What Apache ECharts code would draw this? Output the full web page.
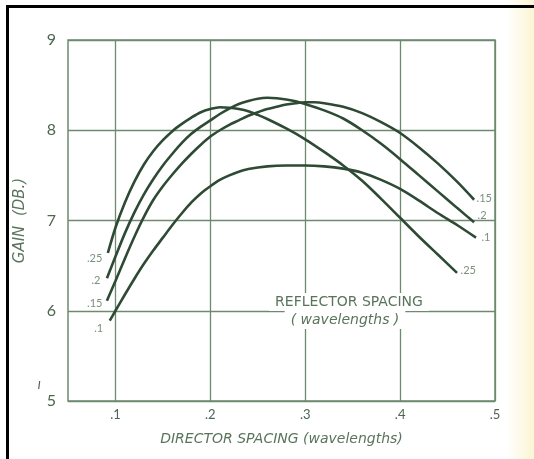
<!DOCTYPE html>
<html>
<head>
<meta charset="utf-8">
<script src="https://cdn.jsdelivr.net/npm/echarts@6/dist/echarts.min.js"></script>
<style>
html,body{margin:0;padding:0;background:#fff;}
#c{width:534px;height:459px;}
</style>
</head>
<body>
<div id="c"></div>
<script>
// Director spacing (wavelengths) vs gain (dB) for reflector spacings
const refl25 = [[0.092,6.64],[0.1,6.92],[0.11,7.20],[0.12,7.43],[0.13,7.62],[0.14,7.77],[0.15,7.89],[0.16,7.99],[0.17,8.07],[0.18,8.14],[0.19,8.20],[0.2,8.235],[0.21,8.255],[0.22,8.25],[0.23,8.235],[0.24,8.21],[0.25,8.17],[0.26,8.125],[0.28,8.02],[0.30,7.9],[0.32,7.76],[0.34,7.61],[0.36,7.44],[0.38,7.24],[0.40,7.03],[0.42,6.82],[0.44,6.62],[0.46,6.42]];
const refl20 = [[0.091,6.36],[0.1,6.60],[0.11,6.86],[0.12,7.09],[0.13,7.29],[0.14,7.46],[0.15,7.61],[0.16,7.74],[0.17,7.86],[0.18,7.96],[0.19,8.04],[0.2,8.11],[0.21,8.18],[0.22,8.24],[0.23,8.29],[0.24,8.325],[0.25,8.35],[0.26,8.36],[0.27,8.355],[0.28,8.34],[0.29,8.32],[0.30,8.29],[0.32,8.22],[0.34,8.13],[0.36,8.0],[0.38,7.85],[0.40,7.68],[0.42,7.50],[0.44,7.32],[0.46,7.14],[0.478,6.98]];
const refl15 = [[0.091,6.11],[0.1,6.33],[0.11,6.58],[0.12,6.82],[0.13,7.04],[0.14,7.23],[0.15,7.38],[0.16,7.51],[0.17,7.63],[0.18,7.74],[0.19,7.84],[0.2,7.93],[0.21,8.00],[0.22,8.06],[0.23,8.11],[0.24,8.16],[0.25,8.20],[0.26,8.235],[0.27,8.26],[0.28,8.285],[0.29,8.30],[0.30,8.31],[0.31,8.31],[0.32,8.30],[0.34,8.26],[0.36,8.19],[0.38,8.09],[0.40,7.97],[0.42,7.81],[0.44,7.63],[0.46,7.43],[0.478,7.23]];
const refl10 = [[0.094,5.89],[0.1,6.0],[0.11,6.18],[0.12,6.355],[0.13,6.52],[0.14,6.67],[0.15,6.81],[0.16,6.95],[0.17,7.08],[0.18,7.20],[0.19,7.30],[0.2,7.38],[0.21,7.45],[0.22,7.50],[0.23,7.54],[0.24,7.57],[0.26,7.60],[0.28,7.61],[0.30,7.61],[0.32,7.60],[0.34,7.575],[0.36,7.53],[0.38,7.45],[0.40,7.35],[0.42,7.22],[0.44,7.08],[0.46,6.95],[0.48,6.81]];
const curveNames = ['.25', '.2', '.15', '.1'];
const xTickLabels = ['.1', '.2', '.3', '.4', '.5'];
const yTickLabels = ['5', '6', '7', '8', '9'];
const xTitle = 'DIRECTOR SPACING (wavelengths)';
const yTitle = 'GAIN  (DB.)';
const noteLine1 = 'REFLECTOR SPACING';
const noteLine2 = '( wavelengths )';

const curves = [refl25, refl20, refl15, refl10];
const lineColor = '#2e4a35';
const gridColor = '#6d8a6f';
const textColor = '#5a745c';
const font = 'Lato';
const titleFont = 'DejaVu Sans';

// label placement (styling only)
const startLab = [{d:5,o:[0,5]},{d:6,o:[0,2]},{d:4,o:[0,3]},{d:6,o:[0,8]}];
const endLab = [{d:3,o:[0,-2]},{d:3,o:[0,-7]},{d:2,o:[0,-1]},{d:5,o:[0,0]}];

const series = curves.map((c) => ({
  type: 'line', data: c, smooth: 0.3, symbol: 'none', silent: true,
  lineStyle: {color: lineColor, width: 2.6}, z: 3
}));
const labelData = [];
curves.forEach((c, i) => {
  const s = c[0], e = c[c.length - 1];
  labelData.push({value: s, label: {show: true, formatter: curveNames[i], position: 'left', distance: startLab[i].d, offset: startLab[i].o}});
  labelData.push({value: e, label: {show: true, formatter: curveNames[i], position: 'right', distance: endLab[i].d, offset: endLab[i].o}});
});
series.push({
  type: 'scatter', data: labelData, symbolSize: 1, silent: true,
  itemStyle: {color: 'rgba(0,0,0,0)'},
  label: {color: textColor, fontSize: 11, fontFamily: font}, z: 4
});

const chart = echarts.init(document.getElementById('c'), null, {renderer: 'canvas'});
chart.setOption({
  backgroundColor: '#ffffff',
  animation: false,
  grid: {left: 68, right: 39, top: 40, bottom: 58, show: true, borderColor: gridColor, borderWidth: 1.5, backgroundColor: 'transparent'},
  xAxis: {
    type: 'value', min: 0.05, max: 0.5, interval: 0.05,
    name: xTitle, nameLocation: 'middle', nameGap: 31,
    nameTextStyle: {color: textColor, fontSize: 14, fontStyle: 'italic', fontFamily: titleFont},
    axisLine: {show: false}, axisTick: {show: false},
    axisLabel: {margin: 7, color: '#4e6550', fontSize: 13, fontFamily: font,
      formatter: (v) => { const k = Math.round(v * 100); return k % 10 === 0 ? xTickLabels[k / 10 - 1] : ''; }},
    splitLine: {show: true, lineStyle: {color: ['rgba(0,0,0,0)', gridColor], width: 1.3}}
  },
  yAxis: {
    type: 'value', min: 5, max: 9, interval: 1,
    name: yTitle, nameLocation: 'middle', nameGap: 40, nameRotate: 90,
    nameTextStyle: {color: textColor, fontSize: 15, fontStyle: 'italic', fontFamily: titleFont},
    axisLine: {show: false}, axisTick: {show: false},
    axisLabel: {margin: 12, color: '#4e6550', fontSize: 16, fontFamily: font,
      formatter: (v) => yTickLabels[Math.round(v) - 5]},
    splitLine: {show: true, lineStyle: {color: gridColor, width: 1.3}}
  },
  graphic: [
    {type: 'rect', shape: {x: 505, y: 0, width: 29, height: 459}, style: {fill: {type: 'linear', x: 0, y: 0, x2: 1, y2: 0, colorStops: [{offset: 0, color: 'rgba(250,244,205,0)'}, {offset: 1, color: 'rgba(250,242,200,0.8)'}]}}, z: -1, silent: true},
    {type: 'rect', shape: {x: 6, y: 5, width: 528, height: 3}, style: {fill: '#000'}, z: 10, silent: true},
    {type: 'rect', shape: {x: 6, y: 5, width: 3, height: 454}, style: {fill: '#000'}, z: 10, silent: true},
    {type: 'text', x: 349, y: 302, z: 5, silent: true, style: {text: noteLine1, fill: textColor, font: '14px "DejaVu Sans"', align: 'center', verticalAlign: 'middle', backgroundColor: '#fff', padding: [2, 6]}},
    {type: 'text', x: 345, y: 320, z: 5, silent: true, style: {text: noteLine2, fill: textColor, font: 'italic 14px "DejaVu Sans"', align: 'center', verticalAlign: 'middle', backgroundColor: '#fff', padding: [2, 6]}},
    {type: 'text', x: 39, y: 385, z: 5, silent: true, style: {text: 'I', fill: '#555', font: 'italic 12px Lato', align: 'center', verticalAlign: 'middle'}}
  ],
  series: series
});
</script>
</body>
</html>
